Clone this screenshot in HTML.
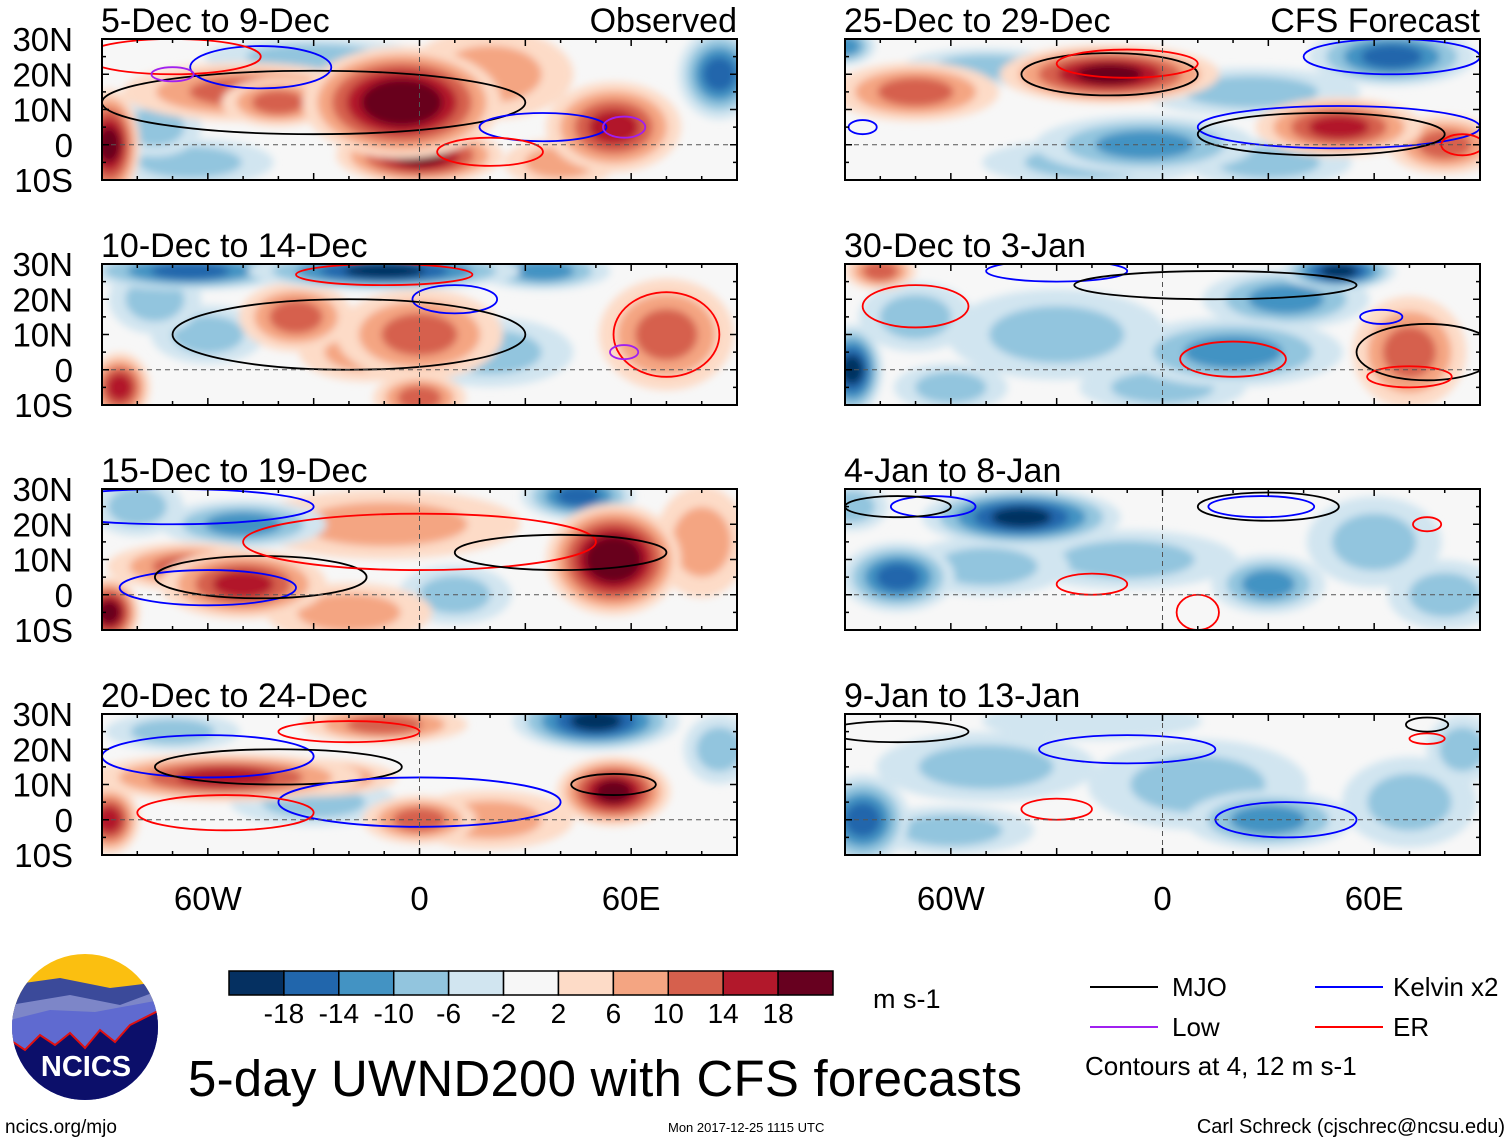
<!DOCTYPE html>
<html><head><meta charset="utf-8"><style>
html,body{margin:0;padding:0;background:#fff;}
svg{display:block;font-family:"Liberation Sans",sans-serif;}
</style></head><body>
<svg id="fig" width="1510" height="1142" viewBox="0 0 1510 1142" xmlns="http://www.w3.org/2000/svg">
<defs>
<filter id="blur" x="-50%" y="-50%" width="200%" height="200%"><feGaussianBlur stdDeviation="4"/></filter>
<clipPath id="logoclip"><circle cx="85" cy="1027" r="73"/></clipPath>
</defs>
<g id="panels"></g>
<g id="colorbar"></g>
<text x="873" y="1008" font-size="27">m s-1</text>
<g>
<line x1="1090" y1="987" x2="1158" y2="987" stroke="#000" stroke-width="2"/>
<text x="1172" y="996" font-size="26">MJO</text>
<line x1="1090" y1="1027" x2="1158" y2="1027" stroke="#a020f0" stroke-width="2"/>
<text x="1172" y="1036" font-size="26">Low</text>
<line x1="1315" y1="987" x2="1383" y2="987" stroke="#0000ff" stroke-width="2"/>
<text x="1393" y="996" font-size="26">Kelvin x2</text>
<line x1="1315" y1="1027" x2="1383" y2="1027" stroke="#ff0000" stroke-width="2"/>
<text x="1393" y="1036" font-size="26">ER</text>
<text x="1085" y="1075" font-size="26">Contours at 4, 12 m s-1</text>
</g>
<g clip-path="url(#logoclip)">
<rect x="10" y="950" width="150" height="160" fill="#fbbf10"/>
<path d="M10 985 L60 978 L110 988 L160 982 L160 1110 L10 1110Z" fill="#3b4a9a"/>
<path d="M10 1005 L70 995 L120 1005 L160 990 L160 1110 L10 1110Z" fill="#7d86c8"/>
<path d="M10 1020 L50 1010 L95 1012 L160 1000 L160 1110 L10 1110Z" fill="#5f6ad0"/>
<path d="M10 1040 L25 1050 L40 1035 L55 1045 L70 1033 L85 1048 L100 1030 L115 1042 L130 1025 L160 1010 L160 1110 L10 1110Z" fill="#0c0f6a" stroke="#e01010" stroke-width="2"/>
</g>
<text x="86" y="1076" font-size="29" font-weight="bold" fill="#fff" text-anchor="middle">NCICS</text>
<text x="188" y="1096" font-size="51" textLength="834">5-day UWND200 with CFS forecasts</text>
<text x="5" y="1133" font-size="19">ncics.org/mjo</text>
<text x="668" y="1132" font-size="13">Mon 2017-12-25 1115 UTC</text>
<text x="1505" y="1133" font-size="20" text-anchor="end">Carl Schreck (cjschrec@ncsu.edu)</text>
</svg>
<script>
const levels=[-18,-14,-10,-6,-2,2,6,10,14,18];
const colors=["#053061","#2166ac","#4393c3","#92c5de","#d1e5f0","#f7f7f7","#fddbc7","#f4a582","#d6604d","#b2182b","#67001f"];
const panelTitles=["5-Dec to 9-Dec","10-Dec to 14-Dec","15-Dec to 19-Dec","20-Dec to 24-Dec","25-Dec to 29-Dec","30-Dec to 3-Jan","4-Jan to 8-Jan","9-Jan to 13-Jan"];
const latTicks=[30,20,10,0,-10];
const latLabels=["30N","20N","10N","0","10S"];
const lonTicks=[-60,0,60];
const lonLabels=["60W","0","60E"];
// anomaly blobs per panel: [lon, lat, value, lonRadius, latRadius]
const blobs0=[[-50,15,8,22,5],[20,20,6,15,8],[-65,-5,-4,15,4],[-30,25,-4,20,3],[-5,12,20,18,10],[0,-3,16,15,5],[-88,0,18,5,10],[55,5,12,12,8],[85,20,-14,7,8],[-75,5,-4,8,5],[-40,12,10,10,4],[40,-5,6,10,4]];
const blobs1=[[-65,28,-14,20,3],[-10,28,-16,25,3],[35,28,-8,12,3],[-35,15,10,10,6],[0,10,10,15,8],[70,10,10,12,10],[-85,-5,14,5,6],[0,-8,10,8,4],[-60,10,-4,10,5],[20,5,-3,15,6],[-75,20,-4,8,6],[-15,5,6,12,5]];
const blobs2=[[-10,20,6,25,6],[-20,-5,6,15,5],[55,10,20,12,10],[-50,3,12,15,6],[-88,-5,18,5,6],[45,28,-14,10,4],[-50,20,-8,15,4],[10,0,-3,10,5],[80,15,4,8,10],[-80,25,-4,8,5],[-65,8,8,15,4]];
const blobs3=[[-55,12,14,25,4],[50,28,-16,15,5],[55,8,16,10,6],[0,0,10,10,4],[-88,0,14,5,6],[-10,27,8,15,3],[-30,5,-4,15,4],[-70,25,-6,12,3],[85,20,-4,6,6],[20,0,4,15,5],[-30,12,8,15,3]];
const blobs4=[[-70,15,8,15,5],[-15,20,16,20,5],[50,5,14,15,5],[65,25,-14,15,5],[-5,0,-8,20,5],[-20,-5,-6,20,4],[80,0,8,10,5],[25,15,-4,20,4],[-90,28,-8,5,3],[30,-5,-4,15,4],[-50,22,-6,15,3]];
const blobs5=[[-30,10,-6,20,8],[20,5,-10,20,6],[-88,0,-18,5,8],[70,5,10,10,10],[-80,28,8,6,3],[50,28,-16,10,3],[-60,-5,-6,10,4],[35,20,-8,15,5],[-70,15,-6,10,6],[0,-5,-4,15,4]];
const blobs6=[[-10,10,-4,20,5],[60,15,-6,12,8],[-40,22,-16,18,5],[-75,5,-12,10,6],[30,3,-10,10,5],[-88,25,-4,6,4],[80,0,-6,10,6],[-50,8,-4,15,5]];
const blobs7=[[-50,15,-4,20,6],[10,10,-4,20,8],[70,5,-6,12,8],[-85,0,-14,8,8],[30,0,-10,15,5],[85,20,-6,6,6],[-20,28,-2,20,3],[-60,-3,-6,15,4]];
const allBlobs=[blobs0,blobs1,blobs2,blobs3,blobs4,blobs5,blobs6,blobs7];
// contours: [type, lon, lat, lonRadius, latRadius]
const cont0=[["m",-30,12,60,9],["k",-45,22,20,6],["e",-70,25,25,5],["l",-70,20,6,2],["k",35,5,18,4],["e",20,-2,15,4],["l",58,5,6,3]];
const cont1=[["k",10,20,12,4],["e",-10,27,25,3],["e",70,10,15,12],["m",-20,10,50,10],["l",58,5,4,2]];
const cont2=[["k",-60,2,25,5],["m",-45,5,30,6],["e",0,15,50,8],["m",40,12,30,5],["k",-70,25,40,5]];
const cont3=[["k",-60,18,30,6],["m",-40,15,35,5],["e",-20,25,20,3],["k",0,5,40,7],["m",55,10,12,3],["e",-55,2,25,5]];
const cont4=[["m",-15,20,25,6],["e",-10,23,20,4],["k",50,5,40,6],["m",45,3,35,6],["k",65,25,25,5],["k",-85,5,4,2],["e",85,0,6,3]];
const cont5=[["k",-30,28,20,3],["m",15,24,40,4],["e",20,3,15,5],["m",75,5,20,8],["k",62,15,6,2],["e",70,-2,12,3],["e",-70,18,15,6]];
const cont6=[["k",-65,25,12,3],["m",-75,25,15,3],["e",-20,3,10,3],["m",30,25,20,4],["k",28,25,15,3],["e",10,-5,6,5],["e",75,20,4,2]];
const cont7=[["k",-10,20,25,4],["k",35,0,20,5],["e",-30,3,10,3],["m",-75,25,20,3],["m",75,27,6,2],["e",75,23,5,1.5]];
const allConts=[cont0,cont1,cont2,cont3,cont4,cont5,cont6,cont7];
const contColor={m:"#000",k:"#0000ff",e:"#ff0000",l:"#a020f0"};

const NS="http://www.w3.org/2000/svg";
function mk(tag,attrs,parent){const e=document.createElementNS(NS,tag);for(const k in attrs)e.setAttribute(k,attrs[k]);parent.appendChild(e);return e;}
function colorFor(v){let i=0;while(i<levels.length&&v>levels[i])i++;return colors[i];}
const PW=635,PH=141,SCALE=1.5;
const panelsG=document.getElementById('panels');
for(let p=0;p<8;p++){
  const col=p<4?0:1,row=p%4;
  const x0=col===0?102:845, y0=39+row*225;
  const xs=lon=>x0+(lon+90)*PW/180;
  const ys=lat=>y0+(30-lat)*PH/40;
  const g=mk('g',{},panelsG);
  
  
  const cp=mk('clipPath',{id:'cp'+p},g);
  mk('rect',{x:x0,y:y0,width:PW,height:PH},cp);
  const inner=mk('g',{'clip-path':'url(#cp'+p+')'},g);
  mk('rect',{x:x0,y:y0,width:PW,height:PH,fill:'#f7f7f7'},inner);
  const bg=mk('g',{filter:'url(#blur)'},inner);
  const bl=allBlobs[p].slice().sort((a,b)=>Math.abs(a[2])-Math.abs(b[2]));
  bl.forEach(b=>{
    const n=Math.max(1,Math.ceil((Math.abs(b[2])+2)/4));
    for(let k=1;k<=n;k++){
      const v=Math.sign(b[2])*(k*4-1);
      const f=1-(k-1)/(n+0.5);
      const el=mk('ellipse',{cx:xs(b[0]),cy:ys(b[1]),rx:b[3]*SCALE*PW/180*f+4,ry:b[4]*SCALE*PH/40*f+3,fill:colorFor(v)},bg);
      
      
    }
  });
  allConts[p].forEach(c=>{
    const el=mk('ellipse',{cx:xs(c[1]),cy:ys(c[2]),rx:c[3]*PW/180,ry:c[4]*PH/40,fill:'none',stroke:contColor[c[0]],'stroke-width':1.8},inner);
    
    
  });
  mk('line',{x1:x0,y1:ys(0),x2:x0+PW,y2:ys(0),stroke:'#555','stroke-dasharray':'5,4','stroke-width':1},inner);
  mk('line',{x1:xs(0),y1:y0,x2:xs(0),y2:y0+PH,stroke:'#555','stroke-dasharray':'5,4','stroke-width':1},inner);
  const fr=mk('rect',{x:x0,y:y0,width:PW,height:PH,fill:'none',stroke:'#000','stroke-width':2},g);
  
  
  for(let lon=-90;lon<=90;lon+=10){
    const L=lon%30===0?7:4;
    mk('line',{x1:xs(lon),y1:y0,x2:xs(lon),y2:y0+L,stroke:'#000','stroke-width':1.5},g);
    mk('line',{x1:xs(lon),y1:y0+PH,x2:xs(lon),y2:y0+PH-L,stroke:'#000','stroke-width':1.5},g);
  }
  for(let lat=-10;lat<=30;lat+=5){
    const L=lat%10===0?7:4;
    mk('line',{x1:x0,y1:ys(lat),x2:x0+L,y2:ys(lat),stroke:'#000','stroke-width':1.5},g);
    mk('line',{x1:x0+PW,y1:ys(lat),x2:x0+PW-L,y2:ys(lat),stroke:'#000','stroke-width':1.5},g);
  }
  const t=mk('text',{x:x0-1,y:y0-7,'font-size':34},g);t.textContent=panelTitles[p];
  
  
  if(p===0||p===4){
    const s=mk('text',{x:x0+PW,y:y0-7,'font-size':34,'text-anchor':'end'},g);
    s.textContent=p===0?'Observed':'CFS Forecast';
    
    
  }
  if(col===0){
    latTicks.forEach((lat,i)=>{
      const a=mk('text',{x:73,y:ys(lat)+12,'font-size':33,'text-anchor':'end'},g);a.textContent=latLabels[i];
      
      
    });
  }
  if(row===3){
    lonTicks.forEach((lon,i)=>{
      const a=mk('text',{x:xs(lon),y:y0+PH+55,'font-size':33,'text-anchor':'middle'},g);a.textContent=lonLabels[i];
      
      
    });
  }
}
const cb=document.getElementById('colorbar');
const cbx=229,cbw=604/colors.length;
colors.forEach((c,i)=>{
  const r=mk('rect',{x:cbx+i*cbw,y:971,width:cbw,height:24,fill:c,stroke:'#000','stroke-width':1.5},cb);
  
  
});
levels.forEach((v,i)=>{
  const t=mk('text',{x:cbx+(i+1)*cbw,y:1023,'font-size':28,'text-anchor':'middle'},cb);t.textContent=v;
  
  
});
</script>
</body></html>
